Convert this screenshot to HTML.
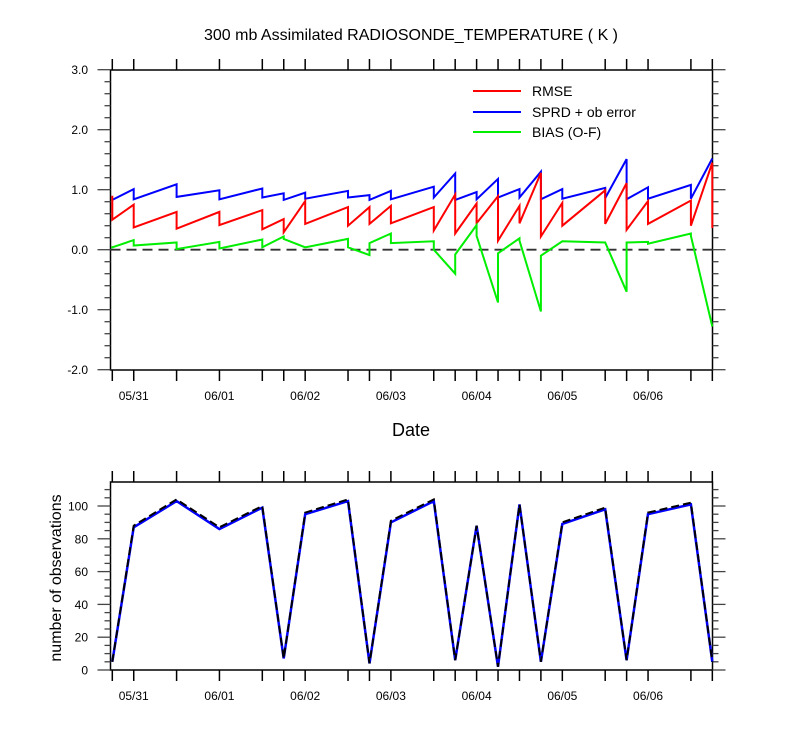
<!DOCTYPE html>
<html><head><meta charset="utf-8">
<style>
html,body{margin:0;padding:0;background:#fff;}
svg{display:block;font-family:"Liberation Sans",sans-serif;}
</style></head>
<body>
<svg id="chart" width="800" height="750" viewBox="0 0 800 750" xmlns="http://www.w3.org/2000/svg">
<text x="411" y="40" font-size="16" text-anchor="middle">300 mb Assimilated RADIOSONDE_TEMPERATURE ( K )</text>
<text x="411" y="436" font-size="18" text-anchor="middle">Date</text>
<text x="0" y="0" font-size="16" text-anchor="middle" transform="translate(61,578) rotate(-90)">number of observations</text>
<g id="topPlot"></g>
<g id="botPlot"></g>
<g>
<line x1="473" y1="91" x2="521" y2="91" stroke="#ff0000" stroke-width="2"/>
<text x="532" y="96" font-size="14">RMSE</text>
<line x1="473" y1="112" x2="521" y2="112" stroke="#0000ff" stroke-width="2"/>
<text x="532" y="117" font-size="14">SPRD + ob error</text>
<line x1="473" y1="132" x2="521" y2="132" stroke="#00ee00" stroke-width="2"/>
<text x="532" y="137" font-size="14">BIAS (O-F)</text>
</g>
</svg>
<script>
const times = [0,1,3,5,7,8,9,11,12,13,15,16,17,18,19,20,21,23,24,25,27,28];
const rmsePrior = [0.90,0.75,0.63,0.63,0.66,0.51,0.81,0.71,0.71,0.73,0.71,0.92,0.77,0.89,0.73,1.28,0.78,0.99,1.11,0.81,0.82,1.45];
const rmsePost  = [0.50,0.37,0.35,0.41,0.34,0.29,0.43,0.40,0.43,0.44,0.32,0.27,0.44,0.15,0.44,0.22,0.40,0.43,0.33,0.43,0.40,0.36];
const sprdPrior = [0.83,1.01,1.09,0.99,1.02,0.94,0.95,0.98,0.91,0.98,1.05,1.27,0.96,1.18,1.01,1.30,1.01,1.03,1.51,1.04,1.08,1.52];
const sprdPost  = [0.83,0.84,0.88,0.84,0.87,0.83,0.85,0.87,0.83,0.84,0.87,0.83,0.84,0.87,0.87,0.84,0.85,0.86,0.84,0.85,0.85,1.52];
const biasPrior = [0.06,0.16,0.12,0.13,0.17,0.22,0.04,0.18,-0.09,0.27,0.14,-0.40,0.41,-0.88,0.19,-1.03,0.14,0.12,-0.70,0.13,0.27,-1.28];
const biasPost  = [0.04,0.07,0.01,0.02,0.04,0.18,0.04,0.04,0.11,0.11,0.00,-0.08,0.23,-0.06,0.15,-0.10,0.14,0.12,0.12,0.10,0.23,-1.28];
const obsPossible = [5,88,104,87,100,7,96,104,4,91,104,6,88,2,101,5,90,99,6,96,102,5];
const obsUsed = [5,87,103,86,99,7,95,103,4,90,103,6,88,2,101,5,89,98,6,95,101,5];
const dayLabels = ["05/31","06/01","06/02","06/03","06/04","06/05","06/06"];
const dayTimes = [1,5,9,13,17,21,25];
const topTicks = [3.0,2.0,1.0,0.0,-1.0,-2.0];
const botTicks = [0,20,40,60,80,100];

const NS="http://www.w3.org/2000/svg";
const X0=112.3, DX=21.43;
function xs(t){return X0+t*DX;}
function yTop(v){return 249.7-v*60;}
function yBot(v){return 670-v*1.64;}
function mk(parent,tag,attrs){const e=document.createElementNS(NS,tag);for(const k in attrs)e.setAttribute(k,attrs[k]);parent.appendChild(e);return e;}

function frame(g,top,bot,yfun,majors,minStep,vmin,vmax,fmt){
  const L=110.5,R=712.5;
  mk(g,'rect',{x:L,y:top,width:R-L,height:bot-top,fill:'none',stroke:'#000','stroke-width':1.5});
  for(const t of times){
    const x=xs(t);
    mk(g,'line',{x1:x,y1:top,x2:x,y2:top-11,stroke:'#000','stroke-width':1.5});
    mk(g,'line',{x1:x,y1:bot,x2:x,y2:bot+11,stroke:'#000','stroke-width':1.5});
  }
  for(let v=vmin;v<=vmax+1e-6;v+=minStep){
    const y=yfun(v);
    if(y<top-0.5||y>bot+0.5)continue;
    const isMaj=majors.some(m=>Math.abs(m-v)<1e-6);
    const len=isMaj?13:6;
    mk(g,'line',{x1:L,y1:y,x2:L-len,y2:y,stroke:'#444','stroke-width':1.3});
    mk(g,'line',{x1:R,y1:y,x2:R+len,y2:y,stroke:'#444','stroke-width':1.3});
  }
  majors.forEach(m=>{
    const y=yfun(m);
    const tx=mk(g,'text',{x:88,y:y+4.5,'font-size':12,'text-anchor':'end'});
    
    
    tx.textContent=fmt(m);
  });
  dayTimes.forEach((t,i)=>{
    const tx=mk(g,'text',{x:xs(t),y:bot+30,'font-size':12,'text-anchor':'middle'});
    
    
    tx.textContent=dayLabels[i];
  });
}

function stepPath(prior,post,yfun){
  let d='';
  times.forEach((t,i)=>{
    const x=xs(t).toFixed(1);
    d+=(i===0?'M':'L')+x+','+yfun(prior[i]).toFixed(1)+'L'+x+','+yfun(post[i]).toFixed(1);
  });
  return d;
}

const topG=document.getElementById('topPlot');
frame(topG,70,370,yTop,topTicks,0.2,-2.0,3.0,v=>v.toFixed(1));
const zero=mk(topG,'line',{x1:110.5,y1:yTop(0),x2:712.5,y2:yTop(0),stroke:'#333','stroke-width':1.8,'stroke-dasharray':'10,6'});


const sp=mk(topG,'path',{d:stepPath(sprdPrior,sprdPost,yTop),fill:'none',stroke:'#0000ff','stroke-width':2});


const rm=mk(topG,'path',{d:stepPath(rmsePrior,rmsePost,yTop),fill:'none',stroke:'#ff0000','stroke-width':2});


const bi=mk(topG,'path',{d:stepPath(biasPrior,biasPost,yTop),fill:'none',stroke:'#00ee00','stroke-width':2});



const botG=document.getElementById('botPlot');
frame(botG,482,670,yBot,botTicks,5,0,110,v=>String(v));
function linePath(vals){return times.map((t,i)=>(i?'L':'M')+xs(t).toFixed(1)+','+yBot(vals[i]).toFixed(1)).join('');}
const ou=mk(botG,'path',{d:linePath(obsUsed),fill:'none',stroke:'#0000ff','stroke-width':2.5});


const op=mk(botG,'path',{d:linePath(obsPossible),fill:'none',stroke:'#000','stroke-width':2,'stroke-dasharray':'8,4'});


</script>
</body></html>
